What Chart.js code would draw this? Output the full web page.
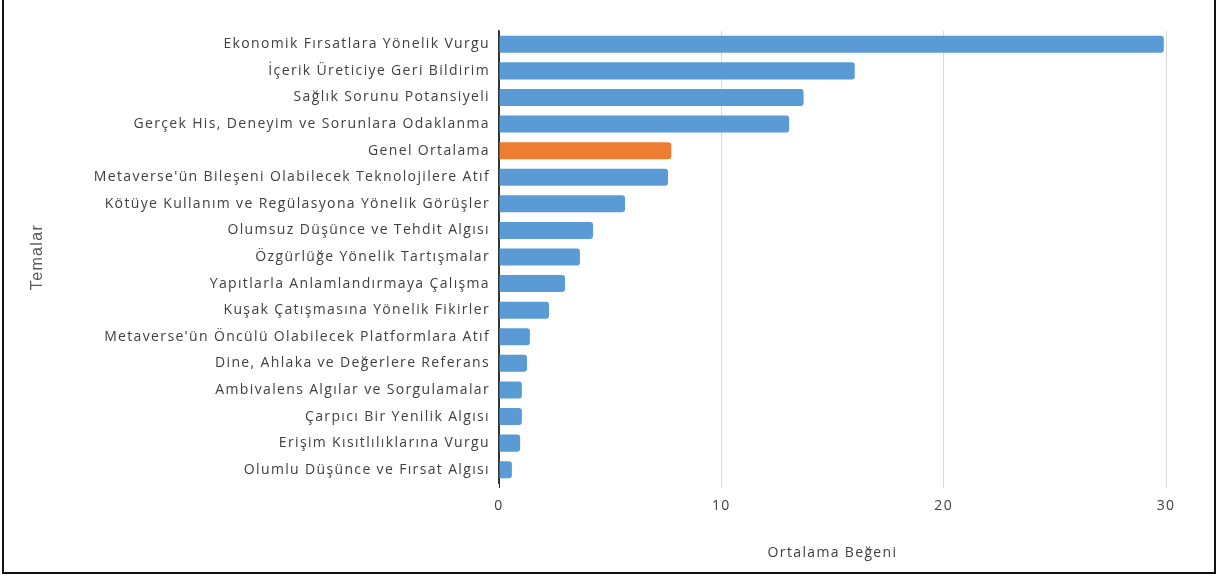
<!DOCTYPE html>
<html>
<head>
<meta charset="utf-8">
<script src="https://cdn.jsdelivr.net/npm/chart.js@4"></script>
<style>
  body { margin: 0; background: #fff; }
  #wrap { position: relative; width: 1220px; height: 580px; }
  #frame { position: absolute; left: 2px; top: -4px; width: 1210px; height: 576px; border: 2px solid #111; border-top: none; pointer-events: none; }
  canvas { position: absolute; left: 0; top: 0; }
</style>
</head>
<body>
<div id="wrap">
  <canvas id="temaChart" width="1220" height="580"></canvas>
  <div id="frame"></div>
</div>
<script>
// temalar ve ortalama begeni degerleri
const temalar = [
  'Ekonomik Fırsatlara Yönelik Vurgu',
  'İçerik Üreticiye Geri Bildirim',
  'Sağlık Sorunu Potansiyeli',
  'Gerçek His, Deneyim ve Sorunlara Odaklanma',
  'Genel Ortalama',
  "Metaverse'ün Bileşeni Olabilecek Teknolojilere Atıf",
  'Kötüye Kullanım ve Regülasyona Yönelik Görüşler',
  'Olumsuz Düşünce ve Tehdit Algısı',
  'Özgürlüğe Yönelik Tartışmalar',
  'Yapıtlarla Anlamlandırmaya Çalışma',
  'Kuşak Çatışmasına Yönelik Fikirler',
  "Metaverse'ün Öncülü Olabilecek Platformlara Atıf",
  'Dine, Ahlaka ve Değerlere Referans',
  'Ambivalens Algılar ve Sorgulamalar',
  'Çarpıcı Bir Yenilik Algısı',
  'Erişim Kısıtlılıklarına Vurgu',
  'Olumlu Düşünce ve Fırsat Algısı'
];
const ortalamaBegeni = [29.9, 16.0, 13.7, 13.05, 7.75, 7.6, 5.67, 4.23, 3.64, 2.97, 2.25, 1.39, 1.26, 1.03, 1.03, 0.95, 0.58];
const xTicks = [0, 10, 20, 30];

const mavi = '#5b9bd5';
const turuncu = '#ed7d31';
const renkler = temalar.map(t => t === 'Genel Ortalama' ? turuncu : mavi);

// harfler arasi bosluk (orijinal yazi tipi daha genis)
const harfAraligi = {
  id: 'harfAraligi',
  beforeLayout(chart) { chart.ctx.letterSpacing = '1.35px'; },
  beforeDraw(chart) { chart.ctx.letterSpacing = '1.35px'; }
};

const ctx = document.getElementById('temaChart').getContext('2d');
new Chart(ctx, {
  type: 'bar',
  data: {
    labels: temalar,
    datasets: [{
      data: ortalamaBegeni,
      backgroundColor: renkler,
      borderRadius: 3,
      borderSkipped: 'start',
      categoryPercentage: 1,
      barPercentage: 0.64
    }]
  },
  plugins: [harfAraligi],
  options: {
    indexAxis: 'y',
    responsive: false,
    animation: false,
    layout: { padding: { left: 0, right: 54, top: 31, bottom: 10 } },
    plugins: {
      legend: { display: false },
      tooltip: { enabled: false }
    },
    scales: {
      x: {
        min: 0,
        max: 30,
        afterBuildTicks: (scale) => { scale.ticks = xTicks.map(v => ({ value: v })); },
        afterFit: (scale) => { scale.height = 87; },
        grid: {
          color: xTicks.map((v, i) => i === 0 ? '#333' : '#d9d9d9'),
          lineWidth: 1,
          tickLength: 5
        },
        border: { display: false },
        ticks: {
          padding: 10,
          color: '#404040',
          font: { family: 'Open Sans', size: 14 }
        },
        title: {
          display: true,
          text: 'Ortalama Beğeni',
          color: '#404040',
          font: { family: 'Open Sans', size: 14 },
          padding: { top: 0, bottom: 9 }
        }
      },
      y: {
        afterFit: (scale) => { scale.width = 499; },
        grid: { display: false, drawTicks: false },
        border: { display: true, color: '#333', width: 1.5 },
        ticks: {
          padding: 9,
          color: '#404040',
          font: { family: 'Open Sans', size: 14 }
        },
        title: {
          display: true,
          text: 'Temalar',
          color: '#595959',
          font: { family: 'Liberation Sans', size: 16 },
          padding: { top: 28, bottom: 0 }
        }
      }
    }
  }
});
</script>
</body>
</html>
